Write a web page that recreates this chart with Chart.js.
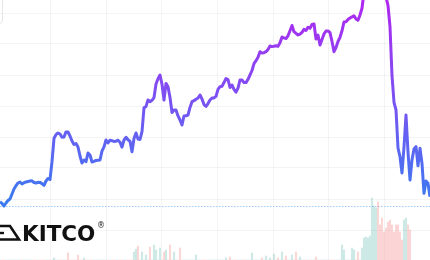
<!DOCTYPE html>
<html>
<head>
<meta charset="utf-8">
<script src="https://cdn.jsdelivr.net/npm/chart.js@4.4.1/dist/chart.umd.min.js"></script>
<style>
  html, body { margin: 0; padding: 0; background: #fff; }
  #wrap { position: relative; width: 430px; height: 260px; overflow: hidden; }
  #wrap canvas { position: absolute; left: 0; top: 0; }
  .box { position: absolute; left: -60px; top: -6px; width: 61px; height: 28px; border: 1px solid #e6e6e6; border-radius: 4px; }
  .logo { position: absolute; left: 22px; top: 223px; font: bold 21.5px/21px "DejaVu Sans", sans-serif; color: #111; }
  .reg { position: absolute; left: 97px; top: 222px; font: 8px/8px "DejaVu Sans", sans-serif; color: #222; }
  .ingot { position: absolute; left: 0; top: 222px; }
</style>
</head>
<body>
<div id="wrap">
  <canvas id="goldChart" width="430" height="260"></canvas>
  <div class="box"></div>
  <svg class="ingot" width="22" height="22" viewBox="0 0 22 22">
    <polyline points="-1,4 10,4 19,17.5 -1,17.5" fill="none" stroke="#111" stroke-width="2.6" stroke-linejoin="miter"/>
    <line x1="-1" y1="11" x2="4" y2="11" stroke="#111" stroke-width="2.4"/>
  </svg>
  <div class="logo">KITCO</div>
  <div class="reg">®</div>
</div>
<script>
// price trace, one value per session (USD/oz)
const prices = [
  3183, 3165, 3140, 3170, 3195, 3210, 3260, 3310, 3343, 3370,
  3380, 3360, 3373, 3380, 3385, 3390, 3392, 3375, 3370, 3377,
  3376, 3364, 3347, 3390, 3415, 3405, 3583, 3817, 3854, 3870,
  3860, 3827, 3830, 3881, 3880, 3840, 3790, 3755, 3764, 3730,
  3640, 3570, 3600, 3583, 3670, 3650, 3580, 3586, 3596, 3598,
  3600, 3690, 3732, 3800, 3770, 3798, 3792, 3786, 3788, 3798,
  3777, 3728, 3800, 3827, 3802, 3787, 3683, 3815, 3870, 3810,
  3805, 3883, 4122, 4136, 4200, 4183, 4197, 4224, 4360, 4413,
  4450, 4358, 4200, 4366, 4333, 4225, 4075, 4100, 4100, 4041,
  4000, 3950, 4040, 4042, 4050, 4126, 4183, 4193, 4208, 4220,
  4250, 4210, 4154, 4136, 4164, 4200, 4219, 4221, 4236, 4307,
  4333, 4338, 4374, 4415, 4404, 4325, 4350, 4307, 4278, 4318,
  4400, 4400, 4374, 4374, 4407, 4450, 4495, 4564, 4593, 4627,
  4683, 4670, 4673, 4683, 4706, 4740, 4734, 4737, 4743, 4736,
  4773, 4830, 4821, 4815, 4842, 4893, 4945, 4883, 4867, 4850,
  4859, 4877, 4907, 4895, 4928, 4917, 4956, 4960, 4810, 4850,
  4750, 4806, 4861, 4890, 4891, 4873, 4785, 4683, 4725, 4785,
  4827, 4892, 4980, 4983, 5005, 5020, 5031, 5043, 5010, 4997,
  5050, 5117, 5280, 5360, 5420, 5460, 5480, 5500, 5500, 5480,
  5440, 5380, 5300, 5230, 5145, 4933, 4445, 4177, 4100, 3720,
  3633, 3470, 3730, 4050, 3680, 3400, 3600, 3710, 3733, 3542,
  3717, 3566, 3267, 3389, 3367, 3233
];

// volume, hundreds of contracts
const volumes = [
  0, 0, 0, 0, 0, 0, 0, 0, 0, 0,
  0, 0, 0, 0, 0, 0, 0, 0, 0, 0,
  0, 0, 0, 0, 0, 0, 0, 200, 0, 0,
  0, 0, 0, 0, 700, 0, 0, 0, 0, 500,
  0, 0, 200, 0, 0, 0, 0, 0, 0, 0,
  0, 0, 0, 0, 0, 0, 0, 0, 0, 0,
  0, 0, 0, 0, 0, 0, 0, 800, 1100, 1400,
  0, 800, 0, 500, 0, 1300, 0, 1500, 1000, 0,
  1200, 0, 800, 1000, 0, 1500, 0, 800, 0, 0,
  1200, 0, 0, 0, 0, 0, 0, 0, 500, 0,
  0, 0, 0, 0, 0, 0, 0, 0, 0, 0,
  0, 0, 0, 200, 0, 300, 0, 0, 0, 0,
  0, 0, 0, 0, 0, 0, 700, 0, 0, 0,
  0, 200, 0, 400, 0, 200, 0, 600, 0, 200,
  0, 800, 0, 400, 0, 0, 500, 0, 800, 0,
  300, 0, 0, 0, 0, 0, 0, 0, 300, 0,
  0, 0, 0, 0, 0, 0, 0, 0, 0, 0,
  0, 1500, 1000, 0, 0, 0, 1200, 1000, 0, 800,
  0, 1200, 2200, 2300, 2200, 2400, 6200, 5400, 5200, 5800,
  3500, 4200, 2800, 3200, 3800, 4000, 3500, 2800, 3500, 3500,
  2800, 2000, 4000, 4200, 3500, 3000
];

const days = prices.map((_, i) => i);
const priceGrid = [2900, 3210, 3520, 3830, 4140, 4450, 4760, 5070];
const dayGrid = [11.35, 39.2, 67, 94.9, 122.65, 150.35, 178.35, 205.9];
const refLevel = 3140;

const barColors = prices.map((p, i) =>
  i > 0 && p < prices[i - 1] ? 'rgba(239, 110, 110, 0.28)' : 'rgba(70, 175, 160, 0.26)'
);

const refLine = {
  id: 'refLine',
  beforeDatasetsDraw(chart) {
    const { ctx, chartArea, scales } = chart;
    const y = Math.round(scales.y.getPixelForValue(refLevel)) + 0.5;
    ctx.save();
    ctx.strokeStyle = 'rgba(130, 185, 245, 0.75)';
    ctx.lineWidth = 1;
    ctx.setLineDash([1.5, 1.5]);
    ctx.beginPath();
    ctx.moveTo(chartArea.left, y);
    ctx.lineTo(chartArea.right, y);
    ctx.stroke();
    ctx.restore();
  },
};

const lineGradient = (context) => {
  const { chart } = context;
  if (!chart.chartArea) return '#4a6cf0';
  const y = chart.scales.y;
  const g = chart.ctx.createLinearGradient(0, y.getPixelForValue(3200), 0, y.getPixelForValue(5200));
  g.addColorStop(0, 'rgb(60, 122, 240)');
  g.addColorStop(0.5, 'rgb(122, 82, 242)');
  g.addColorStop(1, 'rgb(176, 38, 240)');
  return g;
};

const ctx = document.getElementById('goldChart').getContext('2d');

const goldChart = new Chart(ctx, {
  type: 'line',
  data: {
    labels: days,
    datasets: [
      {
        label: 'Gold',
        data: prices,
        borderColor: lineGradient,
        borderWidth: 3,
        pointRadius: 0,
        tension: 0,
        fill: false,
        borderJoinStyle: 'round',
        order: 0,
      },
      {
        type: 'bar',
        label: 'Volume',
        data: volumes,
        yAxisID: 'yVol',
        backgroundColor: barColors,
        barThickness: 1.5,
        order: 1,
      },
    ],
  },
  options: {
    responsive: false,
    animation: false,
    layout: { padding: 0 },
    plugins: {
      legend: { display: false },
      tooltip: { enabled: false },
    },
    scales: {
      x: {
        type: 'linear',
        min: 0,
        max: 215,
        offset: false,
        afterBuildTicks: (scale) => { scale.ticks = dayGrid.map((value) => ({ value })); },
        ticks: { display: false },
        border: { display: false },
        grid: { color: 'rgba(0, 0, 0, 0.045)', drawTicks: false },
      },
      y: {
        min: 2600,
        max: 5200,
        afterBuildTicks: (scale) => { scale.ticks = priceGrid.map((value) => ({ value })); },
        ticks: { display: false },
        border: { display: false },
        grid: { color: 'rgba(0, 0, 0, 0.045)', drawTicks: false },
      },
      yVol: {
        display: false,
        min: 0,
        max: 26000,
      },
    },
  },
  plugins: [refLine],
});
</script>
</body>
</html>
